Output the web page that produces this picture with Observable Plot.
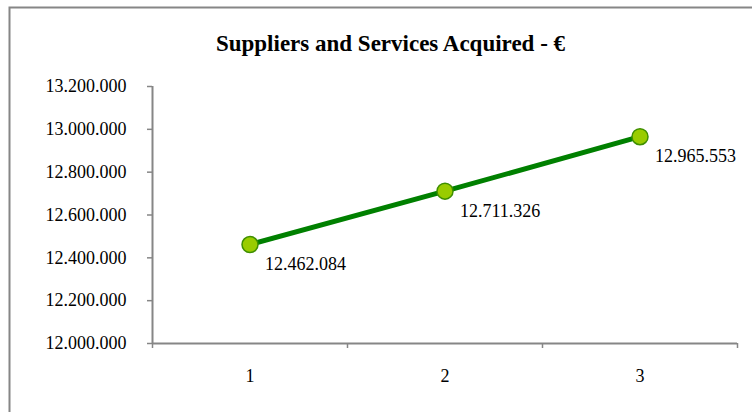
<!DOCTYPE html>
<html>
<head>
<meta charset="utf-8">
<script src="https://cdn.jsdelivr.net/npm/d3@7"></script>
<script src="https://cdn.jsdelivr.net/npm/@observablehq/plot@0.6"></script>
<style>
  html, body { margin: 0; padding: 0; background: #fff; }
  svg { display: block; }
  svg text { font-family: "Liberation Serif", "Times New Roman", serif; }
</style>
</head>
<body>
<div id="chart"></div>
<script>
const title = "Suppliers and Services Acquired - €";
const periods = [1, 2, 3];
const values = [12462084, 12711326, 12965553];
const yTicks = [12000000, 12200000, 12400000, 12600000, 12800000, 13000000, 13200000];

const data = periods.map((p, i) => ({period: p, value: values[i]}));
const fmt = v => d3.format(",")(v).replace(/,/g, ".");
const serif = "Liberation Serif";
const axisColor = "#868686";

const chart = Plot.plot({
  width: 752,
  height: 412,
  marginLeft: 152,
  marginRight: 15,
  marginTop: 86,
  marginBottom: 69,
  style: {fontFamily: serif, fontSize: "18px", color: "#000", background: "#fff"},
  x: {domain: [0.5, 3.5], axis: null},
  y: {domain: [12000000, 13200000], axis: null},
  marks: [
    Plot.axisY({ticks: yTicks, tickFormat: fmt, tickSize: 5, tickPadding: 21, stroke: axisColor, strokeWidth: 1.5, label: null, fontSize: 18, fontFamily: serif}),
    Plot.axisX({ticks: [0.5, 1.5, 2.5, 3.5], tickFormat: () => "", tickSize: 5, stroke: axisColor, strokeWidth: 1.5, label: null}),
    Plot.axisX({ticks: periods, tickFormat: d => String(d), tickSize: 0, tickPadding: 26, label: null, fontSize: 18, fontFamily: serif}),
    Plot.ruleY([12000000], {stroke: axisColor, strokeWidth: 2}),
    Plot.ruleX([0.5], {stroke: axisColor, strokeWidth: 2}),
    Plot.line(data, {x: "period", y: "value", stroke: "#008000", strokeWidth: 5}),
    Plot.dot(data, {x: "period", y: "value", r: 8, fill: "#99cc00", stroke: "#3f8f00", strokeWidth: 1.5}),
    Plot.text(data, {x: "period", y: "value", text: d => fmt(d.value), textAnchor: "start", dx: 15, dy: 20, fontSize: 18, fontFamily: serif, fill: "#000"}),
    Plot.text([title], {frameAnchor: "top-left", dx: 238, dy: -43, textAnchor: "middle", lineAnchor: "middle", fontSize: 23, fontWeight: "bold", fontFamily: serif, fill: "#000"})
  ]
});

document.getElementById("chart").appendChild(chart);

// decorative chart-area border
d3.select(chart).insert("rect", ":first-child")
  .attr("x", 9.5).attr("y", 7.5).attr("width", 760).attr("height", 420)
  .attr("fill", "none").attr("stroke", axisColor).attr("stroke-width", 2);
</script>
</body>
</html>
